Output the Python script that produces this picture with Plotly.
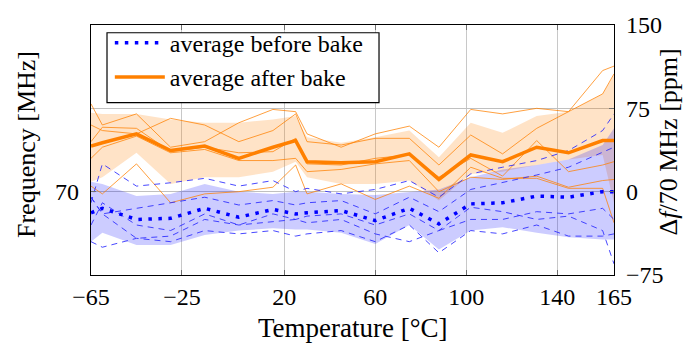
import plotly.graph_objects as go

# Measurement temperatures [°C]
temps = [-65, -60, -45, -30, -15, 0, 15, 25, 30, 45, 60, 75, 88, 102, 116, 131, 145, 160, 165]

# Individual oscillators after bake [ppm]
after_runs = [
    [79, 60, 70, 40, 45, 62, 74, 72, 52, 40, 52, 59, 40, 74, 70, 75, 72, 109, 113],
    [60, 55, 52, 66, 60, 45, 55, 70, 45, 42, 48, 48, 24, 51, 34, 57, 72, 88, 106],
    [45, 58, 57, 36, 40, 35, 36, 48, 25, 24, 30, 33, 13, 30, 14, 46, 18, 24, 27],
    [30, 40, 50, 35, 38, 28, 28, 30, 18, 20, 25, 28, 0, 13, 11, 14, 4, 10, 11],
    [5, -2, 25, -10, -2, 0, 4, 24, -2, 7, -7, 5, -6, 22, 12, 12, 3, 3, -28],
]

# Individual oscillators before bake [ppm]
before_runs = [
    [-10, 25, 5, 8, 12, 5, 10, 0, 3, -2, 2, 10, -5, 16, 22, 28, 37, 55, 70],
    [-5, -20, -15, -10, -5, -12, -8, -12, -10, -8, -20, -5, -18, 2, 8, 15, 22, 35, 40],
    [-30, -10, -30, -35, -20, -30, -20, -25, -22, -20, -30, -20, -35, -25, -25, -18, -20, -15, -25],
    [-45, -50, -42, -45, -35, -38, -35, -40, -38, -35, -45, -30, -55, -35, -38, -30, -40, -40, -38],
    [-5, -20, -42, -40, -25, -30, -27, -25, -28, -25, -38, -45, -35, -14, -18, -25, -22, -35, -65],
]

# Averages [ppm]
avg_after = [41, 44, 52, 37, 41, 30, 40, 46, 27, 26, 27, 34, 11, 33, 27, 40, 35, 46, 46]
avg_before = [-19, -15, -25, -24, -15, -23, -16, -20, -19, -17, -26, -15, -29, -11, -10, -4, -5, 0, 0]

# Spread bands [ppm]
after_upper = [71, 70, 70, 65, 62, 62, 65, 68, 49, 44, 49, 55, 31, 62, 53, 68, 72, 88, 105]
after_lower = [9, 13, 35, 7, 13, 13, 18, 27, 13, 7, 7, 10, -8, 16, 18, 24, 29, 33, -10]
before_upper = [9, 7, -4, -2, 7, 0, -2, 0, 0, -2, -3, 0, 2, 13, 20, 24, 29, 42, 57]
before_lower = [-45, -37, -48, -48, -39, -35, -33, -34, -34, -37, -47, -30, -52, -35, -32, -37, -41, -43, -43]

x_ticks = [-65, -25, 20, 60, 100, 140, 165]
x_ticktext = ["\u221265", "\u221225", "20", "60", "100", "140", "165"]
ppm_ticks = [-75, 0, 75, 150]
ppm_ticktext = ["\u221275", "0", "75", "150"]

ORANGE = "rgb(255,128,0)"
BLUE = "rgb(0,0,255)"
FONT = "Liberation Serif"

fig = go.Figure()

# shaded spread regions
fig.add_trace(go.Scatter(
    x=temps + temps[::-1], y=after_upper + after_lower[::-1],
    fill="toself", fillcolor="rgba(255,128,0,0.22)", line=dict(width=0),
    mode="lines", showlegend=False, hoverinfo="skip"))
fig.add_trace(go.Scatter(
    x=temps + temps[::-1], y=before_upper + before_lower[::-1],
    fill="toself", fillcolor="rgba(0,0,255,0.2)", line=dict(width=0),
    mode="lines", showlegend=False, hoverinfo="skip"))

# individual runs
for run in after_runs:
    fig.add_trace(go.Scatter(x=temps, y=run, mode="lines",
                             line=dict(color="rgba(255,128,0,0.75)", width=1),
                             showlegend=False, hoverinfo="skip"))
for run in before_runs:
    fig.add_trace(go.Scatter(x=temps, y=run, mode="lines",
                             line=dict(color="rgba(40,40,255,0.85)", width=1, dash="6px,5px"),
                             showlegend=False, hoverinfo="skip"))

# averages
fig.add_trace(go.Scatter(x=temps, y=avg_before, mode="lines", name="average before bake",
                         line=dict(color=BLUE, width=3.5, dash="3.5px,6.5px"),
                         legendgroup="b"))
fig.add_trace(go.Scatter(x=temps, y=avg_after, mode="lines", name="average after bake",
                         line=dict(color=ORANGE, width=3.5),
                         legendgroup="a"))

axis_common = dict(showline=True, linecolor="black", linewidth=1.3,
                   ticks="inside", ticklen=5, tickcolor="#707070",
                   tickfont=dict(family=FONT, size=24, color="black"),
                   zeroline=False)

fig.update_layout(
    width=692, height=344,
    margin=dict(l=91, r=78, t=17, b=69),
    paper_bgcolor="white", plot_bgcolor="white",
    font=dict(family=FONT, size=24, color="black"),
    xaxis=dict(range=[-65, 165], tickvals=x_ticks, ticktext=x_ticktext,
               showgrid=True, gridcolor="#c8c8c8", gridwidth=1.2,
               mirror="ticks", **axis_common),
    yaxis=dict(range=[-75, 150], tickvals=[0], ticktext=["70"],
               showgrid=False, mirror=True, ticklabelstandoff=6, **axis_common),
    yaxis2=dict(range=[-75, 150], tickvals=ppm_ticks, ticktext=ppm_ticktext,
                overlaying="y", side="right", showgrid=True,
                gridcolor="#c0c0c0", gridwidth=1.2, ticklabelstandoff=6, **axis_common),
    legend=dict(x=0.036, y=1.017, xanchor="left", yanchor="top",
                bgcolor="rgba(0,0,0,0)", borderwidth=0,
                font=dict(family=FONT, size=24), itemwidth=50,
                tracegroupgap=0),
    showlegend=True,
)

# dummy trace so the right axis is drawn
fig.add_trace(go.Scatter(x=[None], y=[None], yaxis="y2", showlegend=False, hoverinfo="skip"))

# legend frame
fig.add_shape(type="rect", xref="paper", yref="paper",
              x0=0.0306, x1=0.5507, y0=0.6899, y1=0.969,
              fillcolor="white", line=dict(color="black", width=1.2), layer="above")

# axis titles
fig.add_annotation(text="Temperature [°C]", xref="paper", yref="paper",
                   x=0.5, y=0, yshift=-53, showarrow=False,
                   font=dict(family=FONT, size=27), yanchor="middle")
fig.add_annotation(text="Frequency [MHz]", xref="paper", yref="paper",
                   x=0, y=0.52, xshift=-65, textangle=-90, showarrow=False,
                   font=dict(family=FONT, size=26), xanchor="center")
fig.add_annotation(text="\u0394<i>f</i>/70 MHz [ppm]", xref="paper", yref="paper",
                   x=1, y=0.53, xshift=54, textangle=-90, showarrow=False,
                   font=dict(family=FONT, size=26), xanchor="center")

fig.write_html("out.html")
